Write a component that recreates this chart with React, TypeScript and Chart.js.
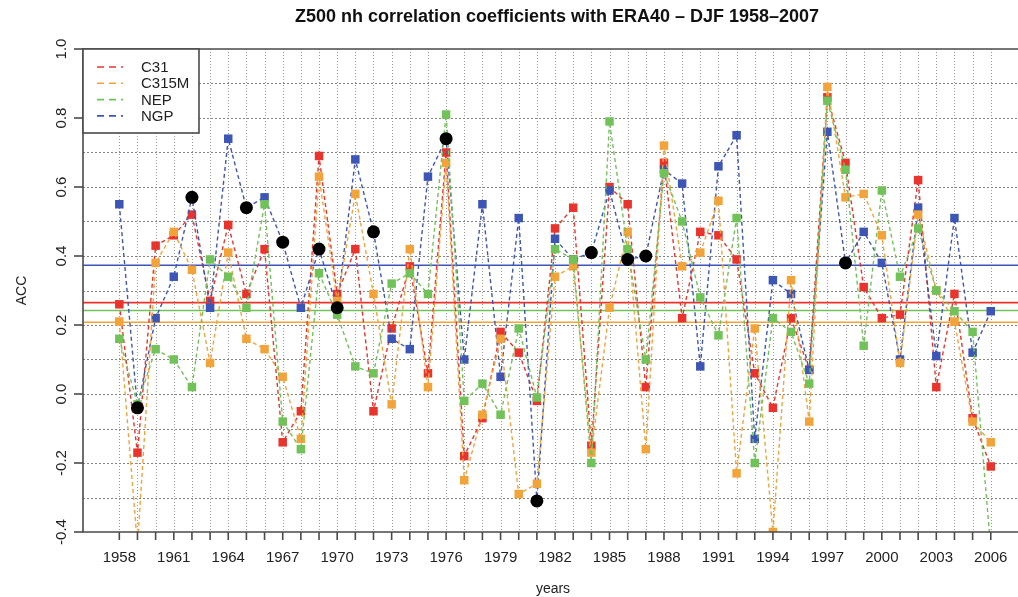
import { useEffect, useRef } from "react";
import { Chart, registerables } from "chart.js";

Chart.register(...registerables);

// DJF winters, labelled by year
const years = [
  1958, 1959, 1960, 1961, 1962, 1963, 1964, 1965, 1966, 1967,
  1968, 1969, 1970, 1971, 1972, 1973, 1974, 1975, 1976, 1977,
  1978, 1979, 1980, 1981, 1982, 1983, 1984, 1985, 1986, 1987,
  1988, 1989, 1990, 1991, 1992, 1993, 1994, 1995, 1996, 1997,
  1998, 1999, 2000, 2001, 2002, 2003, 2004, 2005, 2006,
];

const c31 = [
  0.26, -0.17, 0.43, 0.46, 0.52, 0.27, 0.49, 0.29, 0.42, -0.14,
  -0.05, 0.69, 0.29, 0.42, -0.05, 0.19, 0.37, 0.06, 0.70, -0.18,
  -0.07, 0.18, 0.12, -0.02, 0.48, 0.54, -0.15, 0.60, 0.55, 0.02,
  0.67, 0.22, 0.47, 0.46, 0.39, 0.06, -0.04, 0.22, 0.07, 0.86,
  0.67, 0.31, 0.22, 0.23, 0.62, 0.02, 0.29, -0.07, -0.21,
];

const c315m = [
  0.21, -0.44, 0.38, 0.47, 0.36, 0.09, 0.41, 0.16, 0.13, 0.05,
  -0.13, 0.63, 0.27, 0.58, 0.29, -0.03, 0.42, 0.02, 0.67, -0.25,
  -0.06, 0.16, -0.29, -0.26, 0.34, 0.37, -0.17, 0.25, 0.47, -0.16,
  0.72, 0.37, 0.41, 0.56, -0.23, 0.19, -0.40, 0.33, -0.08, 0.89,
  0.57, 0.58, 0.46, 0.09, 0.52, 0.30, 0.21, -0.08, -0.14,
];

const nep = [
  0.16, -0.03, 0.13, 0.10, 0.02, 0.39, 0.34, 0.25, 0.55, -0.08,
  -0.16, 0.35, 0.23, 0.08, 0.06, 0.32, 0.35, 0.29, 0.81, -0.02,
  0.03, -0.06, 0.19, -0.01, 0.42, 0.39, -0.20, 0.79, 0.42, 0.10,
  0.64, 0.50, 0.28, 0.17, 0.51, -0.20, 0.22, 0.18, 0.03, 0.85,
  0.65, 0.14, 0.59, 0.34, 0.48, 0.30, 0.24, 0.18, -0.45,
];

const ngp = [
  0.55, -0.04, 0.22, 0.34, 0.57, 0.25, 0.74, 0.54, 0.57, 0.44,
  0.25, 0.42, 0.25, 0.68, 0.47, 0.16, 0.13, 0.63, 0.74, 0.10,
  0.55, 0.05, 0.51, -0.31, 0.45, 0.39, 0.41, 0.59, 0.39, 0.40,
  0.65, 0.61, 0.08, 0.66, 0.75, -0.13, 0.33, 0.29, 0.07, 0.76,
  0.38, 0.47, 0.38, 0.10, 0.54, 0.11, 0.51, 0.12, 0.24,
];

// NGP winters drawn as black dots
const markedYears = [1959, 1962, 1965, 1967, 1969, 1970, 1972, 1976, 1981, 1984, 1986, 1987, 1998];

const seriesNames = ["C31", "C315M", "NEP", "NGP"];
const seriesColors = ["#e8342c", "#f2a43a", "#72c25a", "#3d55b5"];
// time-mean ACC of each series (solid horizontal lines)
const meanLevels = [0.265, 0.208, 0.242, 0.373];

const yTicks = [-0.4, -0.2, 0.0, 0.2, 0.4, 0.6, 0.8, 1.0];
const yTickLabels = ["-0.4", "-0.2", "0.0", "0.2", "0.4", "0.6", "0.8", "1.0"];
const yGrid = [-0.3, -0.2, -0.1, 0.0, 0.1, 0.2, 0.3, 0.4, 0.5, 0.6, 0.7, 0.8, 0.9];
const xLabelYears = [1958, 1961, 1964, 1967, 1970, 1973, 1976, 1979, 1982, 1985, 1988, 1991, 1994, 1997, 2000, 2003, 2006];

const TITLE = "Z500 nh correlation coefficients with ERA40 \u2013 DJF 1958\u20132007";
const FONT = "'Liberation Sans', Arial, Helvetica, sans-serif";

const framePlugin = {
  id: "rFrame",
  beforeDatasetsDraw(chart: any) {
    const { ctx, chartArea: a, scales } = chart;
    const x = scales.x;
    const y = scales.y;
    ctx.save();
    // dotted grid
    ctx.lineWidth = 1;
    ctx.strokeStyle = "rgba(110,110,110,0.85)";
    ctx.setLineDash([2, 2]);
    for (const v of yGrid) {
      const py = Math.round(y.getPixelForValue(v)) + 0.5;
      ctx.beginPath();
      ctx.moveTo(a.left, py);
      ctx.lineTo(a.right, py);
      ctx.stroke();
    }
    ctx.strokeStyle = "rgba(130,130,130,0.8)";
    ctx.setLineDash([1, 2]);
    for (const yr of years) {
      const px = Math.round(x.getPixelForValue(yr)) + 0.5;
      ctx.beginPath();
      ctx.moveTo(px, a.top);
      ctx.lineTo(px, a.bottom);
      ctx.stroke();
    }
    // mean levels
    ctx.setLineDash([]);
    ctx.lineWidth = 1.6;
    meanLevels.forEach((m, i) => {
      const py = y.getPixelForValue(m);
      ctx.strokeStyle = seriesColors[i];
      ctx.beginPath();
      ctx.moveTo(a.left, py);
      ctx.lineTo(a.right, py);
      ctx.stroke();
    });
    ctx.restore();
  },
  afterDatasetsDraw(chart: any) {
    const { ctx, chartArea: a, scales } = chart;
    const x = scales.x;
    const y = scales.y;
    ctx.save();
    ctx.setLineDash([]);
    ctx.strokeStyle = "#4a4a4a";
    ctx.lineWidth = 1.6;
    // box (left, top, bottom)
    ctx.beginPath();
    ctx.moveTo(a.right + 2, a.top);
    ctx.lineTo(a.left, a.top);
    ctx.lineTo(a.left, a.bottom);
    ctx.lineTo(a.right + 2, a.bottom);
    ctx.stroke();

    // y ticks + rotated labels
    ctx.fillStyle = "#222";
    ctx.font = `15px ${FONT}`;
    ctx.textAlign = "center";
    ctx.textBaseline = "middle";
    yTicks.forEach((v, i) => {
      const py = y.getPixelForValue(v);
      ctx.beginPath();
      ctx.moveTo(a.left - 9, py);
      ctx.lineTo(a.left, py);
      ctx.stroke();
      ctx.save();
      ctx.translate(a.left - 21, py);
      ctx.rotate(-Math.PI / 2);
      ctx.fillText(yTickLabels[i], 0, 0);
      ctx.restore();
    });

    // x ticks + labels
    for (const yr of years) {
      const px = x.getPixelForValue(yr);
      ctx.beginPath();
      ctx.moveTo(px, a.bottom);
      ctx.lineTo(px, a.bottom + 8);
      ctx.stroke();
    }
    for (const yr of xLabelYears) {
      ctx.fillText(String(yr), x.getPixelForValue(yr), a.bottom + 26);
    }

    // axis titles
    ctx.font = `14px ${FONT}`;
    ctx.fillText("years", 553, 589);
    ctx.save();
    ctx.translate(22, (a.top + a.bottom) / 2);
    ctx.rotate(-Math.PI / 2);
    ctx.fillText("ACC", 0, 0);
    ctx.restore();

    // title
    ctx.font = `bold 18px ${FONT}`;
    ctx.fillStyle = "#111";
    ctx.fillText(TITLE, 557, 17);

    // legend
    const lx = a.left;
    const ly = a.top;
    const lw = 116;
    const lh = 84;
    ctx.fillStyle = "#fff";
    ctx.fillRect(lx, ly, lw, lh);
    ctx.strokeStyle = "#4a4a4a";
    ctx.lineWidth = 1.6;
    ctx.strokeRect(lx, ly, lw, lh);
    ctx.font = `15px ${FONT}`;
    ctx.textAlign = "left";
    seriesNames.forEach((name, i) => {
      const ry = ly + 18 + i * 16.3;
      ctx.strokeStyle = seriesColors[i];
      ctx.lineWidth = 1.6;
      ctx.setLineDash([7, 5]);
      ctx.beginPath();
      ctx.moveTo(lx + 14, ry);
      ctx.lineTo(lx + 40, ry);
      ctx.stroke();
      ctx.setLineDash([]);
      ctx.fillStyle = "#222";
      ctx.fillText(name, lx + 58, ry + 1);
    });
    ctx.restore();
  },
};

function seriesDataset(values: number[], idx: number, order: number, hideMarked: boolean) {
  const color = seriesColors[idx];
  return {
    label: seriesNames[idx],
    data: values.map((v, i) => ({ x: years[i], y: v })),
    borderColor: color,
    backgroundColor: color,
    borderWidth: 1.4,
    borderDash: [4, 3],
    pointStyle: "rect",
    pointRadius: (c: any) => (hideMarked && markedYears.includes(years[c.dataIndex]) ? 0 : 6),
    pointBorderWidth: 0,
    pointBackgroundColor: color,
    tension: 0,
    order,
    clip: 0,
  };
}

export default function App() {
  const canvasRef = useRef<HTMLCanvasElement | null>(null);

  useEffect(() => {
    const canvas = canvasRef.current;
    if (!canvas) return;
    const marked = markedYears.map((yr) => ({ x: yr, y: ngp[years.indexOf(yr)] }));
    const chart = new Chart(canvas, {
      type: "line",
      data: {
        datasets: [
          seriesDataset(c31, 0, 4, false),
          seriesDataset(c315m, 1, 2, false),
          seriesDataset(nep, 2, 1, false),
          seriesDataset(ngp, 3, 3, true),
          {
            label: "marked",
            data: marked,
            showLine: false,
            pointStyle: "circle",
            pointRadius: 6.5,
            pointBorderWidth: 0,
            pointBackgroundColor: "#000",
            backgroundColor: "#000",
            borderColor: "#000",
            order: 0,
            clip: 0,
          },
        ] as any,
      },
      options: {
        animation: false,
        responsive: false,
        events: [],
        layout: { autoPadding: false, padding: { left: 83, top: 49, right: 0, bottom: 65 } },
        scales: {
          x: { type: "linear", min: 1956, max: 2007.5, display: false },
          y: { type: "linear", min: -0.4, max: 1.0, display: false },
        },
        plugins: {
          legend: { display: false },
          tooltip: { enabled: false },
          title: { display: false },
        },
      },
      plugins: [framePlugin],
    });
    return () => chart.destroy();
  }, []);

  return (
    <div style={{ position: "fixed", left: 0, top: 0, width: 1018, height: 597, background: "#fff" }}>
      <canvas ref={canvasRef} width={1018} height={597} style={{ display: "block" }} />
    </div>
  );
}
